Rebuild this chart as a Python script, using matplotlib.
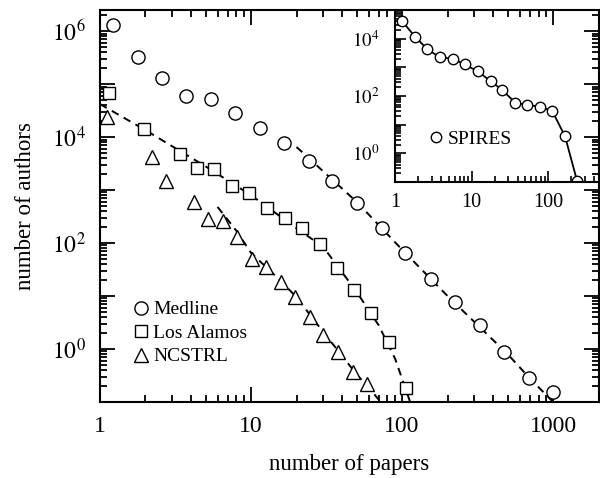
import matplotlib
matplotlib.use('Agg')
import matplotlib.pyplot as plt
import numpy as np
from matplotlib.ticker import FixedLocator, LogLocator, FuncFormatter, NullFormatter

plt.rcParams['font.family'] = ['Liberation Serif', 'DejaVu Serif']
plt.rcParams['mathtext.fontset'] = 'stix'

# ---- data ----
medline_x = [1.22, 1.78, 2.56, 3.73, 5.45, 7.85, 11.4, 16.5, 24.1, 34.6, 50.6, 73.9,
             105, 155, 223, 326, 476, 695, 1000]
medline_y = [1.3e6, 3.2e5, 1.3e5, 5.9e4, 5.2e4, 2.8e4, 1.5e4, 7.7e3, 3.5e3, 1.48e3, 569, 192,
             65, 21, 7.7, 2.84, 0.88, 0.28, 0.154]

lanl_x = [1.15, 1.95, 3.36, 4.41, 5.7, 7.5, 9.7, 12.7, 16.7, 21.8, 28.4, 36.8, 48.3, 62.5, 82, 106]
lanl_y = [6.7e4, 1.4e4, 4.8e3, 2.6e3, 2.5e3, 1.19e3, 880, 456, 296, 190, 96, 34, 13, 4.8, 1.36, 0.18]

ncstrl_x = [1.11, 2.2, 2.72, 4.22, 5.2, 6.5, 8.1, 10.1, 12.6, 15.8, 19.5, 24.4, 29.8, 37.9, 47.6, 58.9]
ncstrl_y = [2.4e4, 4.2e3, 1.48e3, 590, 283, 260, 130, 50, 35, 18.4, 9.6, 4.0, 1.84, 0.88, 0.37, 0.22]

# dashed fit curves
medline_fit_x = [20, 50, 100, 200, 500, 700, 1000]
medline_fit_y = [6.5e3, 600, 75, 10, 0.8, 0.28, 0.1]
lanl_fit_x = [1, 2, 5, 10, 20, 30, 50, 70, 90, 113]
lanl_fit_y = [4.2e4, 1.35e4, 2.8e3, 800, 190, 85, 12, 2.8, 0.65, 0.1]
ncstrl_fit_x = [6, 8, 10, 15, 20, 30, 40, 50, 60, 72]
ncstrl_fit_y = [480, 170, 65, 22, 9.5, 2.1, 0.75, 0.33, 0.19, 0.1]

spires_x = [1.23, 1.82, 2.6, 3.84, 5.67, 8.1, 12, 17.7, 25.3, 37.3, 53.4, 78.7, 113, 166, 238]
spires_y = [4.2e4, 1.17e4, 4.5e3, 2.2e3, 2.0e3, 1.26e3, 730, 330, 160, 57, 49, 42, 30, 3.9, 0.11]

# ---- figure ----
fig = plt.figure(figsize=(6, 4.78), dpi=100)
ax = fig.add_axes([0.1667, 0.159, 0.831, 0.82])

mk = dict(mfc='white', mec='black', mew=1.0, ls='none')
ax.plot(medline_fit_x, medline_fit_y, color='black', lw=1.4, ls=(0, (4, 3)))
ax.plot(lanl_fit_x, lanl_fit_y, color='black', lw=1.4, ls=(0, (4, 3)))
ax.plot(ncstrl_fit_x, ncstrl_fit_y, color='black', lw=1.4, ls=(0, (4, 3)))
ax.plot(medline_x, medline_y, marker='o', ms=9.5, label='Medline', **mk)
ax.plot(lanl_x, lanl_y, marker='s', ms=8.5, label='Los Alamos', **mk)
ax.plot(ncstrl_x, ncstrl_y, marker='^', ms=9.5, label='NCSTRL', **mk)

ax.set_xscale('log')
ax.set_yscale('log')
ax.set_xlim(1, 2000)
ax.set_ylim(0.1, 2.5e6)

ax.xaxis.set_major_locator(FixedLocator([1, 10, 100, 1000]))
ax.xaxis.set_minor_locator(LogLocator(base=10, subs=np.arange(2, 10)))
ax.xaxis.set_major_formatter(FuncFormatter(lambda v, p: '%d' % round(v)))
ax.xaxis.set_minor_formatter(NullFormatter())

ax.yaxis.set_major_locator(FixedLocator([10.0 ** k for k in range(0, 7)]))
ax.yaxis.set_minor_locator(LogLocator(base=10, subs=np.arange(2, 10), numticks=20))
ax.yaxis.set_major_formatter(FuncFormatter(
    lambda v, p: r'$10^{%d}$' % round(np.log10(v)) if round(np.log10(v)) % 2 == 0 else ''))
ax.yaxis.set_minor_formatter(NullFormatter())

ax.tick_params(which='both', direction='in', top=True, right=True, width=1.3)
ax.tick_params(which='major', length=11, labelsize=17, pad=10)
ax.tick_params(which='minor', length=5)
for s in ax.spines.values():
    s.set_linewidth(1.5)

ax.set_xlabel('number of papers', fontsize=16.5, labelpad=12)
ax.set_ylabel('number of authors', fontsize=16.5, labelpad=12)

ax.legend(loc='upper left', bbox_to_anchor=(0.068, 0.258), frameon=False, fontsize=14,
          handlelength=0.7, handletextpad=0.3, labelspacing=0.3, borderpad=0,
          borderaxespad=0, numpoints=1)

# ---- inset ----
ins = fig.add_axes([0.6583, 0.6192, 0.34, 0.36])
ins.patch.set_alpha(0)
ins.plot(spires_x, spires_y, color='black', lw=1.3, marker='o', ms=7.5,
         mfc='white', mec='black', mew=1.0, label='SPIRES')
ins.set_xscale('log')
ins.set_yscale('log')
ins.set_xlim(1, 460)
ins.set_ylim(0.1, 1e5)
ins.xaxis.set_major_locator(FixedLocator([1, 10, 100]))
ins.xaxis.set_minor_locator(LogLocator(base=10, subs=np.arange(2, 10)))
ins.xaxis.set_major_formatter(FuncFormatter(lambda v, p: '%d' % round(v)))
ins.xaxis.set_minor_formatter(NullFormatter())
ins.yaxis.set_major_locator(FixedLocator([10.0 ** k for k in range(0, 5)]))
ins.yaxis.set_minor_locator(LogLocator(base=10, subs=np.arange(2, 10), numticks=20))
ins.yaxis.set_major_formatter(FuncFormatter(
    lambda v, p: r'$10^{%d}$' % round(np.log10(v)) if round(np.log10(v)) % 2 == 0 else ''))
ins.yaxis.set_minor_formatter(NullFormatter())
ins.tick_params(which='both', direction='in', top=False, right=False, width=1.2)
ins.tick_params(axis='x', which='major', length=8, labelsize=14.5, pad=8)
ins.tick_params(axis='y', which='major', length=8, labelsize=13.5, pad=11)
ins.tick_params(which='minor', length=4)
ins.spines['top'].set_visible(False)
ins.spines['right'].set_visible(False)
for s in ['left', 'bottom']:
    ins.spines[s].set_linewidth(1.5)
ins.legend(handles=[ins.lines[0]], loc='center left', bbox_to_anchor=(0.2, 0.25), frameon=False,
           fontsize=14, handlelength=0.0, handletextpad=0.6, borderpad=0, borderaxespad=0)
leg = ins.get_legend()
for h in leg.legend_handles:
    h.set_linestyle('none')

fig.savefig('out.png', dpi=100)
